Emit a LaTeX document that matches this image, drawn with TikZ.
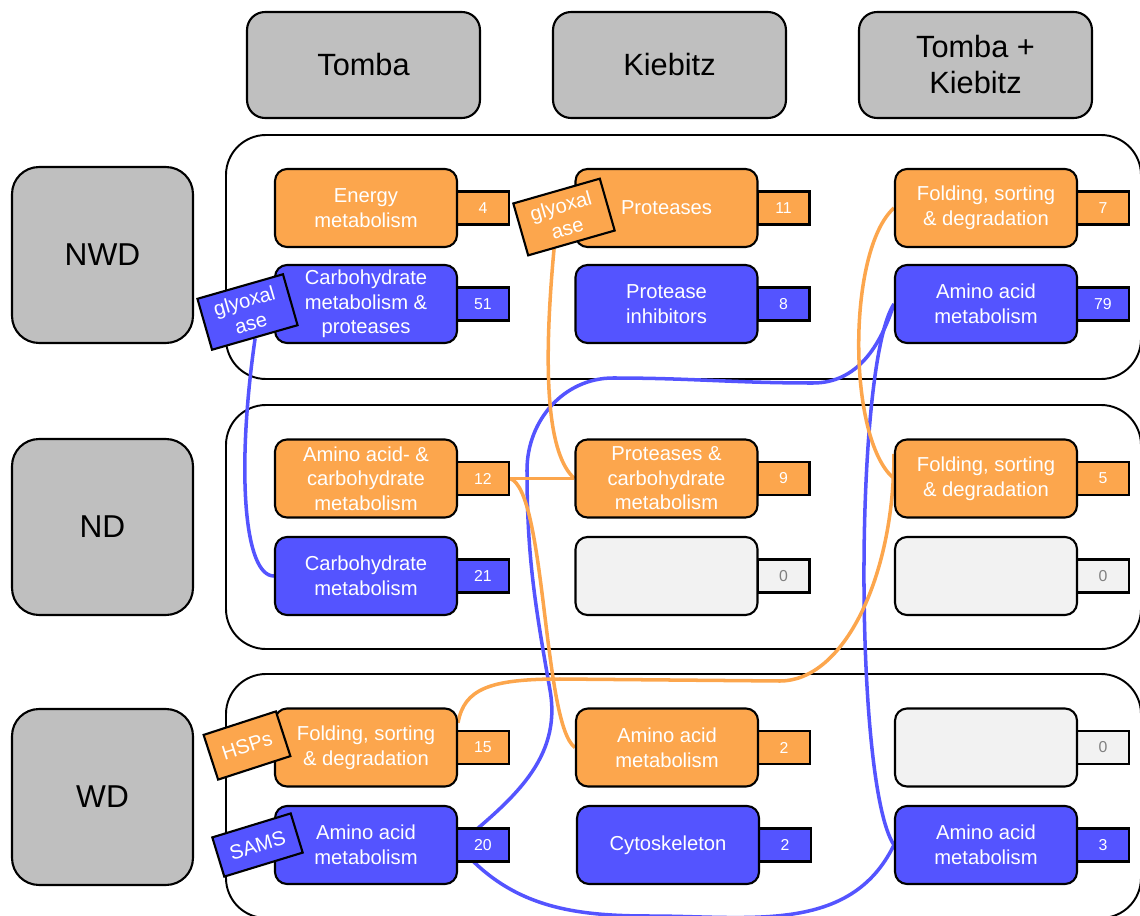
\documentclass[tikz,border=0pt]{standalone}
\usepackage{fontspec}
\setmainfont{Liberation Sans}
\usetikzlibrary{calc,backgrounds}

\definecolor{catorange}{RGB}{252,166,77}
\definecolor{catblue}{RGB}{84,84,255}
\definecolor{headgray}{RGB}{191,191,191}
\definecolor{voidgray}{RGB}{242,242,242}

\tikzset{
	head/.style={draw, fill=headgray, rounded corners=0.36cm, line width=1.2pt,
		minimum width=4.66cm, minimum height=2.12cm, align=center,
		font=\fontsize{17.5}{20.5}\selectfont},
	cond/.style={head, rounded corners=0.54cm, minimum width=3.62cm,
		minimum height=3.52cm, font=\fontsize{18}{21}\selectfont},
	panel/.style={draw, rounded corners=0.8cm, line width=1.1pt},
	cat/.style={draw, rounded corners=0.24cm, line width=1.2pt, inner sep=1pt,
		minimum width=3.64cm, minimum height=1.56cm, align=center, text=white,
		font=\fontsize{11.5}{14}\selectfont},
	num/.style={draw, line width=1.2pt, inner sep=0pt, minimum width=1.04cm,
		minimum height=0.66cm, text=white, font=\fontsize{9}{11}\selectfont},
	tag/.style={draw, line width=1.2pt, inner sep=0pt, align=center, text=white,
		font=\fontsize{11.5}{13.5}\selectfont},
	orng/.style={fill=catorange},
	blu/.style={fill=catblue},
	void/.style={fill=voidgray, text=gray},
	link/.style={line width=2pt},
}

\begin{document}
\begin{tikzpicture}[x=0.02cm, y=0.02cm]
	\useasboundingbox (0,0) rectangle (1140,-916);

	\node[head] (tomba) at (363.5,-65) {Tomba};
	\node[head] (kiebitz) at (669.5,-65) {Kiebitz};
	\node[head] (both) at (975.5,-65) {Tomba +\\Kiebitz};
	\node[cond] (nwd) at (102.5,-255) {NWD};
	\node[cond] (nd) at (102.5,-527) {ND};
	\node[cond] (wd) at (102.5,-797) {WD};

	\foreach \nm/\x/\y/\kind/\txt/\cnt in {
		energy/366/-208/orng/{Energy\\metabolism}/4,
		carbprot/366/-304/blu/{Carbohydrate\\metabolism \&\\proteases}/51,
		prot/666.5/-208/orng/{Proteases}/11,
		protinh/666.5/-304/blu/{Protease\\inhibitors}/8,
		foldA/986/-208/orng/{Folding, sorting\\\& degradation}/7,
		aminoA/986/-304/blu/{Amino acid\\metabolism}/79,
		aacarb/366/-478.5/orng/{Amino acid- \&\\carbohydrate\\metabolism}/12,
		carbB/366/-576/blu/{Carbohydrate\\metabolism}/21,
		protcarb/666.5/-478.5/orng/{Proteases \&\\carbohydrate\\metabolism}/9,
		voidK/666.5/-576/void/{}/0,
		foldB/986/-478.5/orng/{Folding, sorting\\\& degradation}/5,
		voidB/986/-576/void/{}/0,
		foldC/366/-747.5/orng/{Folding, sorting\\\& degradation}/15,
		aminoB/366/-845/blu/{Amino acid\\metabolism}/20,
		aminoK/667/-747.5/orng/{Amino acid\\metabolism}/2,
		cyto/668/-845/blu/{Cytoskeleton}/2,
		voidW/986/-747.5/void/{}/0,
		aminoC/986/-845/blu/{Amino acid\\metabolism}/3%
	}{%
		\node[num, \kind] (\nm-n) at ([xshift=2.34cm]\x,\y) {\cnt};
		\node[cat, \kind] (\nm) at (\x,\y) {\txt};
	}

	\node[tag, blu, rotate=16, minimum width=1.78cm, minimum height=1.06cm] (glyA) at (247.5,-312) {glyoxal\\ase};
	\node[tag, orng, rotate=16, minimum width=1.8cm, minimum height=1.08cm] (glyB) at (564,-217) {glyoxal\\ase};
	\node[tag, orng, rotate=18, minimum width=1.52cm, minimum height=0.94cm] (hsp) at (247,-745.5) {HSPs};
	\node[tag, blu, rotate=17, minimum width=1.64cm, minimum height=0.82cm] (sams) at (257.5,-845) {SAMS};

	\begin{scope}[on background layer]
		\draw[panel] (226,-135) rectangle (1141,-379);
		\draw[panel] (226,-405) rectangle (1141,-649);
		\draw[panel] (226,-674) rectangle (1141,-918);

		\draw[link, catblue] (glyA.south) .. controls +(-19,-132) and +(-30,0) .. (carbB.west);
		\draw[link, catblue] (aminoB.east) to[out=40, in=-80] (550,-690)
			to[out=100, in=-90] (527,-470) to[out=90, in=180] (613,-378)
			to[out=0, in=180] (813,-383) to[out=0, in=-108] (aminoA.west);
		\draw[link, catblue] (aminoB.east) to[out=-50, in=180] (650,-916)
			to[out=0, in=-116] (aminoC.west);
		\draw[link, catblue] (aminoA.west) .. controls +(-40,-60) and +(-40,60) .. (aminoC.west);

		\draw[link, catorange] ($(glyB.south west)!0.6!(glyB.south)$)
			.. controls +(-12,-130) and +(-26,23) .. (protcarb.west);
		\draw[link, catorange] (aacarb-n.east) -- (protcarb.west);
		\draw[link, catorange] (aacarb-n.east) .. controls +(36,-12) and +(-32,23) .. (aminoK.west);
		\draw[link, catorange] (foldC.15) .. controls +(6,34) and +(-70,0) .. (560,-679)
			-- (780,-681) .. controls +(63,0) and +(0,-125) .. (foldB.165);
		\draw[link, catorange] (foldA.west) .. controls +(-47,-42) and +(-47,39) .. (foldB.west);
	\end{scope}
\end{tikzpicture}
\end{document}
